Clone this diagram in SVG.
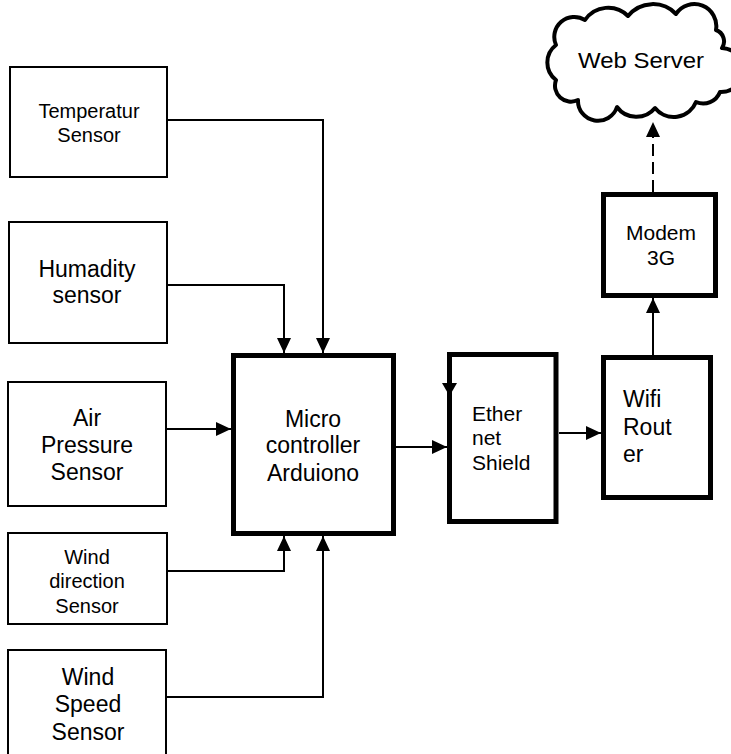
<svg xmlns="http://www.w3.org/2000/svg" width="731" height="754" viewBox="0 0 731 754">
<defs>
<style>
.thin{fill:#fff;stroke:#000;stroke-width:2}
.thick{fill:#fff;stroke:#000;stroke-width:5}
.t{font-family:"Liberation Sans",Arial,sans-serif;fill:#000}
.c{text-anchor:middle}
.ln{fill:none;stroke:#000;stroke-width:2}
</style>
<marker id="ah" markerUnits="userSpaceOnUse" markerWidth="15" markerHeight="14" refX="15" refY="7" orient="auto">
<path d="M0,0 L15,7 L0,14 z" fill="#000"/>
</marker>
</defs>
<rect width="731" height="754" fill="#fff"/>

<g id="connectors">
<path class="ln" d="M167,120 H323 V353" marker-end="url(#ah)"/>
<path class="ln" d="M167,285 H284 V353" marker-end="url(#ah)"/>
<path class="ln" d="M166,429 H231" marker-end="url(#ah)"/>
<path class="ln" d="M167,571 H284 V536" marker-end="url(#ah)"/>
<path class="ln" d="M167,697 H323 V536" marker-end="url(#ah)"/>
<path class="ln" d="M396,447 H447" marker-end="url(#ah)"/>
<path class="ln" d="M559,433 H601" marker-end="url(#ah)"/>
<path class="ln" d="M653,355 V298" marker-end="url(#ah)"/>
<path class="ln" d="M653,192 V137" stroke-dasharray="12,6"/>
<path d="M646,137 L653,122 L660,137 z" fill="#000"/>
</g>

<g id="temperatur">
<rect class="thin" x="10" y="67" width="157" height="110"/>
<text class="t c" font-size="20" x="89" y="118">Temperatur</text>
<text class="t c" font-size="20" x="89" y="142">Sensor</text>
</g>

<g id="humadity">
<rect class="thin" x="9" y="222" width="158" height="121"/>
<text class="t c" font-size="23" x="87" y="277">Humadity</text>
<text class="t c" font-size="23" x="87" y="303">sensor</text>
</g>

<g id="air-pressure">
<rect class="thin" x="8" y="382" width="158" height="124"/>
<text class="t c" font-size="23" x="87" y="426">Air</text>
<text class="t c" font-size="23" x="87" y="453">Pressure</text>
<text class="t c" font-size="23" x="87" y="480">Sensor</text>
</g>

<g id="wind-direction">
<rect class="thin" x="8" y="533" width="159" height="91"/>
<text class="t c" font-size="20" x="87" y="564">Wind</text>
<text class="t c" font-size="20" x="87" y="588">direction</text>
<text class="t c" font-size="20" x="87" y="613">Sensor</text>
</g>

<g id="wind-speed">
<rect class="thin" x="8" y="650" width="158" height="120"/>
<text class="t c" font-size="23" x="88" y="685">Wind</text>
<text class="t c" font-size="23" x="88" y="712">Speed</text>
<text class="t c" font-size="23" x="88" y="740">Sensor</text>
</g>

<g id="microcontroller">
<rect class="thick" x="233.5" y="355.5" width="160" height="178"/>
<text class="t c" font-size="23" x="313" y="427">Micro</text>
<text class="t c" font-size="23" x="313" y="453">controller</text>
<text class="t c" font-size="23" x="313" y="481">Arduiono</text>
</g>

<g id="ethernet-shield">
<rect class="thick" x="449.5" y="354.5" width="106.5" height="167"/>
<path d="M442,383 L457,383 L449.5,396 z" fill="#000"/>
<text class="t" font-size="21" x="472" y="421">Ether</text>
<text class="t" font-size="21" x="472" y="445">net</text>
<text class="t" font-size="21" x="472" y="470">Shield</text>
</g>

<g id="wifi-router">
<rect class="thick" x="603.5" y="357.5" width="107" height="140"/>
<text class="t" font-size="23" x="623" y="407">Wifi</text>
<text class="t" font-size="23" x="623" y="435">Rout</text>
<text class="t" font-size="23" x="623" y="462">er</text>
</g>

<g id="modem">
<rect class="thick" x="603.5" y="194.5" width="112" height="101"/>
<text class="t c" font-size="21" x="661" y="240">Modem</text>
<text class="t c" font-size="21" x="661" y="265">3G</text>
</g>

<g id="web-server">
<path fill="#fff" stroke="#000" stroke-width="4" stroke-linejoin="round" d="M556,45 A20,20 0 0 1 585,20 A28,28 0 0 1 628,16 A32,32 0 0 1 676,14 A22,22 0 0 1 716,30 A12,12 0 0 1 722,48 A22,22 0 0 1 720,92 A18,18 0 0 1 696,102 A24,24 0 0 1 655,108 A24,24 0 0 1 617,107 A20,20 0 0 1 578,100 A16,16 0 0 1 556,80 A22,22 0 0 1 556,45 Z"/>
<text class="t" font-size="22" x="578" y="68" textLength="126" lengthAdjust="spacingAndGlyphs">Web Server</text>
</g>
</svg>
